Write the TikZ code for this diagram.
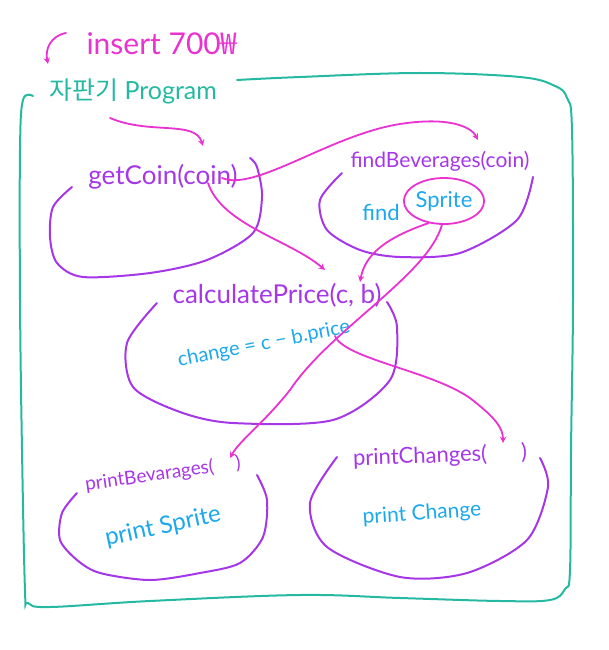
\documentclass[tikz,border=0pt]{standalone}
\usepackage{fontspec}
\setmainfont{Lato}
\newfontfamily\kr{Noto Sans CJK KR}
\usepgflibrary{arrows}
\usetikzlibrary{shapes.geometric}
\definecolor{pen}{RGB}{166,55,232}
\definecolor{ink}{RGB}{233,50,208}
\definecolor{sky}{RGB}{28,168,238}
\definecolor{sea}{RGB}{37,185,162}
\newcommand\fsz[1]{\fontsize{#1}{#1}\selectfont}

\begin{document}
\begin{tikzpicture}[x=1pt,y=-1pt,
  blob/.style={draw=pen, line width=2pt, line cap=round},
  func/.style={text=pen, inner sep=0pt},
  stmt/.style={text=sky, inner sep=0pt},
  flow/.style={draw=ink, line width=1.8pt, -stealth, line cap=round},
  frame/.style={draw=sea, line width=2pt, line cap=round}]

\useasboundingbox (0,0) rectangle (609,650);

\node[text=ink, font=\fsz{30}] (insert) at (162,44) {insert 700{\kr ₩}};
\node[text=sea, font=\fsz{25}] (program) at (133,91) {{\kr 자판기} Program};

\draw [frame] plot[smooth, tension=0.6] coordinates {(237,80) (300,77) (420,73) (520,77) (555,86) (567,98) (572,130) (573,300) (571,450) (570,570) (565,589) (550,600) (500,601) (400,598) (300,595) (150,601) (50,607) (28,603) (25,590) (22,450) (20,300) (20,150) (23,100) (33,96)};

\node[func, font=\fsz{26}] (getCoin) at (163,177) {getCoin(coin)};
\draw [blob] plot[smooth] coordinates {(72,187) (53,207) (50,237) (57,263) (83,277) (150,273) (207,260) (253,233) (262,197) (257,167) (250,158)};

\node[func, font=\fsz{21}] (findBev) at (440,161) {findBeverages(coin)};
\node[stmt, font=\fsz{22}] (find) at (381,212) {find};
\node[stmt, font=\fsz{22}, ellipse, draw=ink, line width=1.8pt, minimum width=66pt, minimum height=46pt] (sprite) at (444,201) {Sprite};
\draw [blob] plot[smooth] coordinates {(342,173) (320,200) (327,230) (360,250) (400,257) (460,253) (517,220) (533,177)};

\node[func, font=\fsz{26}] (calc) at (277,295) {calculatePrice(c,~b)};
\node[stmt, font=\fsz{20}, rotate=11] (change) at (264,344) {change = c − b.price};
\draw [blob] plot[smooth] coordinates {(157,303) (127,343) (133,387) (180,412) (233,423) (333,420) (390,380) (397,327) (387,302)};

\node[func, font=\fsz{19}, rotate=8] (printBev) at (163,474) {printBevarages(\hspace{22pt})};
\node[stmt, font=\fsz{24}, rotate=12] (printSprite) at (163,527) {print Sprite};
\draw [blob] plot[smooth] coordinates {(77,493) (62,513) (60,540) (77,560) (100,573) (150,580) (200,573) (240,563) (263,537) (267,500) (257,475)};

\node[func, font=\fsz{22}, rotate=2] (printCh) at (440,456) {printChanges(\hspace{34pt})};
\node[stmt, font=\fsz{21}, rotate=4] (printChange) at (422,514) {print Change};
\draw [blob] plot[smooth] coordinates {(337,457) (310,503) (327,547) (400,577) (467,573) (527,540) (548,487) (540,458)};

\coordinate (wonTail) at (66,33);
\coordinate (wonHead) at (48,64);
\coordinate (kiosk) at (110,118);
\coordinate (coinTop) at (203,146);
\coordinate (coinArg) at (222,178);
\coordinate (coinDown) at (208,183);
\coordinate (findTop) at (478,140);
\coordinate (cArg) at (325,270);
\coordinate (bArg) at (360,282);
\coordinate (bPrice) at (335,336);
\coordinate (bevArg) at (230,458);
\coordinate (chArg) at (503,443);

\draw [flow] (wonTail) .. controls (50,36) and (45,50) .. (wonHead);
\draw [flow] (kiosk) .. controls (150,135) and (195,120) .. (coinTop);
\draw [flow] (coinArg) .. controls (255,192) and (330,135) .. (400,124) .. controls (445,117) and (470,125) .. (findTop);
\draw [flow] (coinDown) .. controls (222,225) and (290,240) .. (cArg);
\draw [flow] (sprite.235) .. controls (385,238) and (365,255) .. (bArg);
\draw [flow] (sprite.265) .. controls (428,275) and (330,330) .. (290,390) .. controls (262,425) and (240,440) .. (bevArg);
\draw [flow] (bPrice) .. controls (345,360) and (440,372) .. (475,402) .. controls (495,418) and (503,428) .. (chArg);

\end{tikzpicture}
\end{document}
